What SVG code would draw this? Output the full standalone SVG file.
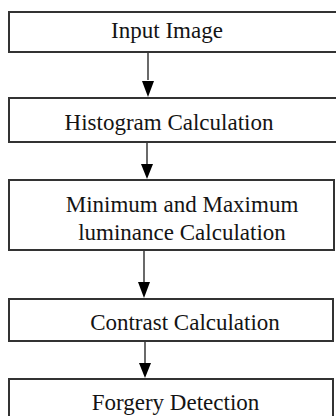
<svg xmlns="http://www.w3.org/2000/svg" width="336" height="416" viewBox="0 0 336 416">
<defs>
<style>
.box{fill:#fff;stroke:#333;stroke-width:2}
.lbl{font-family:"Liberation Serif","Times New Roman",serif;font-size:23px;fill:#141414;text-anchor:middle}
.conn{stroke:#444;stroke-width:1.6;fill:none}
</style>
<marker id="ah" viewBox="0 0 12 16" refX="6" refY="16" markerWidth="12" markerHeight="16" markerUnits="userSpaceOnUse" orient="auto-start-reverse">
<path d="M0,0 L12,0 L6,16 Z" fill="#000"/>
</marker>
</defs>
<rect width="336" height="416" fill="#fff"/>
<g id="n1"><rect class="box" x="9" y="12" width="335" height="40"/><text class="lbl" x="167" y="38">Input Image</text></g>
<g id="n2"><rect class="box" x="9" y="98" width="335" height="44"/><text class="lbl" x="169" y="130">Histogram Calculation</text></g>
<g id="n3"><rect class="box" x="9" y="180" width="325" height="70"/><text class="lbl" x="182" y="212">Minimum and Maximum</text><text class="lbl" x="182" y="240">luminance Calculation</text></g>
<g id="n4"><rect class="box" x="9" y="299" width="324" height="42"/><text class="lbl" x="185" y="330">Contrast Calculation</text></g>
<g id="n5"><rect class="box" x="9" y="379" width="324" height="45"/><text class="lbl" x="175.5" y="410">Forgery Detection</text></g>
<g id="connectors">
<path class="conn" d="M148,53 L148,80" transform="rotate(0)"/>
<path d="M142,81 L154,81 L148,97 Z" fill="#000"/>
<path class="conn" d="M147,143 L147,164"/>
<path d="M141,164 L153,164 L147,179 Z" fill="#000"/>
<path class="conn" d="M144,251 L144,283"/>
<path d="M138,282 L150,282 L144,298 Z" fill="#000"/>
<path class="conn" d="M145,342 L145,364"/>
<path d="M139,363 L151,363 L145,378 Z" fill="#000"/>
</g>
</svg>
